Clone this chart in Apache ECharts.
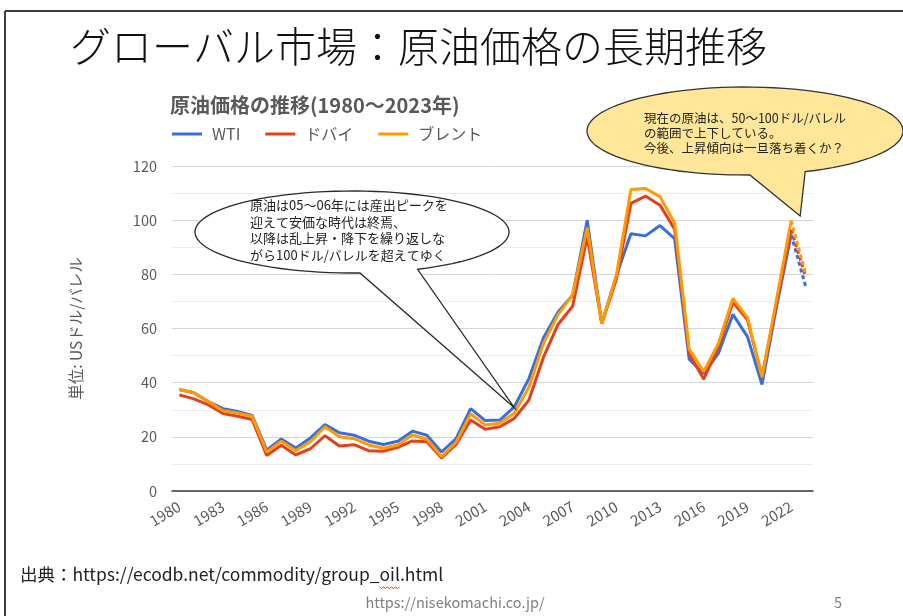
<!DOCTYPE html>
<html>
<head>
<meta charset="utf-8">
<script src="https://cdn.jsdelivr.net/npm/echarts@6/dist/echarts.min.js"></script>
<style>
  html, body { margin: 0; padding: 0; background: #ffffff; }
  #chart { width: 903px; height: 616px; }
</style>
</head>
<body>
<div id="chart"></div>
<script>
// Annual average crude oil prices (USD per barrel), 1980-2023
const years = ['1980','1981','1982','1983','1984','1985','1986','1987','1988','1989',
  '1990','1991','1992','1993','1994','1995','1996','1997','1998','1999',
  '2000','2001','2002','2003','2004','2005','2006','2007','2008','2009',
  '2010','2011','2012','2013','2014','2015','2016','2017','2018','2019',
  '2020','2021','2022','2023'];

const wti = [37.5, 36.3, 33.0, 30.4, 29.4, 27.9, 15.1, 19.2, 15.9, 19.6,
  24.5, 21.5, 20.6, 18.4, 17.2, 18.4, 22.1, 20.6, 14.4, 19.3,
  30.4, 26.0, 26.2, 31.1, 41.5, 56.6, 66.1, 72.3, 100.0, 61.9,
  79.5, 95.0, 94.2, 98.0, 93.2, 48.7, 43.3, 50.8, 65.2, 57.0,
  39.3, 68.1, 94.6, 75.5];

const dubai = [35.5, 34.0, 31.8, 28.6, 27.6, 26.4, 13.1, 16.9, 13.3, 15.6,
  20.4, 16.6, 17.1, 14.9, 14.7, 16.1, 18.5, 18.2, 12.2, 17.2,
  26.2, 22.8, 23.7, 26.8, 33.6, 49.4, 61.5, 68.2, 93.8, 61.8,
  78.1, 106.2, 108.9, 105.5, 96.7, 50.8, 41.3, 53.1, 69.7, 63.2,
  42.3, 69.2, 96.4, 79.0];

const brent = [37.5, 36.3, 33.0, 29.6, 28.8, 27.6, 14.4, 18.4, 14.9, 18.2,
  23.7, 20.0, 19.3, 17.0, 15.8, 17.0, 20.7, 19.1, 12.7, 18.0,
  28.5, 24.4, 25.0, 28.8, 38.3, 54.5, 65.1, 72.4, 97.3, 61.7,
  79.5, 111.3, 111.7, 108.7, 99.0, 52.4, 44.1, 54.4, 71.1, 64.0,
  42.0, 70.9, 99.8, 80.0];

const seriesNames = ['WTI', 'ドバイ', 'ブレント'];
const seriesColors = ['#3a6fd8', '#e3401d', '#ff9a00'];
const yTicks = { min: 0, max: 120, interval: 20 };

const FONT = '"Noto Sans CJK JP", "Noto Sans", sans-serif';
const GRAY = '#595959';

const chart = echarts.init(document.getElementById('chart'), null, { renderer: 'canvas' });

// the final (latest) segment of each series is drawn dashed
const last = years.length - 1;
const solidPart = arr => arr.map((v, i) => (i < last ? v : null));
const dashedPart = arr => arr.map((v, i) => (i >= last - 1 ? v : null));

const allData = [wti, dubai, brent];
const series = [];
allData.forEach((arr, k) => {
  series.push({
    name: seriesNames[k], type: 'line', data: solidPart(arr),
    symbol: 'none', smooth: false, connectNulls: false,
    lineStyle: { color: seriesColors[k], width: 3 },
    itemStyle: { color: seriesColors[k] },
    z: 2 + k
  });
});
allData.forEach((arr, k) => {
  series.push({
    name: seriesNames[k], type: 'line', data: dashedPart(arr),
    symbol: 'none', connectNulls: false,
    lineStyle: { color: seriesColors[k], width: 3, type: [4, 3] },
    itemStyle: { color: seriesColors[k] },
    z: 6 + k
  });
});

chart.setOption({
  animation: false,
  backgroundColor: '#ffffff',
  textStyle: { fontFamily: FONT },
  title: {
    text: '原油価格の推移(1980〜2023年)',
    left: 170, top: 95, padding: 0,
    textStyle: { fontFamily: FONT, fontSize: 20, fontWeight: 'bold', color: GRAY }
  },
  legend: {
    data: seriesNames,
    left: 172, top: 126, padding: 0,
    icon: 'rect', itemWidth: 30, itemHeight: 3, itemGap: 25,
    textStyle: { fontFamily: FONT, fontSize: 16, color: GRAY, padding: [0, 0, 0, 5] }
  },
  grid: { left: 172, right: 90, top: 166, bottom: 125, containLabel: false },
  xAxis: {
    type: 'category', data: years, boundaryGap: true,
    axisLine: { show: true, lineStyle: { color: '#3a3a3a', width: 1.5 } },
    axisTick: { show: false },
    axisLabel: { interval: 2, rotate: 31, margin: 14, fontFamily: FONT, fontSize: 15, color: GRAY }
  },
  yAxis: {
    type: 'value', min: yTicks.min, max: yTicks.max, interval: yTicks.interval,
    name: '単位: USドル/バレル', nameLocation: 'middle', nameGap: 88, nameRotate: 90,
    nameTextStyle: { fontFamily: FONT, fontSize: 15.5, color: GRAY },
    axisLine: { show: false }, axisTick: { show: false },
    axisLabel: { margin: 15, fontFamily: FONT, fontSize: 14.5, color: GRAY },
    splitLine: { show: true, lineStyle: { color: '#d6d6d6', width: 1 } },
    minorTick: { show: false, splitNumber: 2 },
    minorSplitLine: { show: true, lineStyle: { color: '#ececec', width: 1 } }
  },
  series: series
});

// speech-bubble outline: ellipse with a pointed tail between two angles
function bubble(cx, cy, rx, ry, tRight, tLeft, tip) {
  const pts = [];
  const steps = 90;
  const start = tLeft, end = tRight + Math.PI * 2;
  for (let i = 0; i <= steps; i++) {
    const t = start + (end - start) * i / steps;
    pts.push([cx + rx * Math.cos(t), cy + ry * Math.sin(t)]);
  }
  pts.push(tip);
  return pts;
}

const tip1 = chart.convertToPixel({ xAxisIndex: 0, yAxisIndex: 0 }, ['2003', 30]);
const tip2 = chart.convertToPixel({ xAxisIndex: 0, yAxisIndex: 0 }, ['2022', 101.5]);

const note1 = ['原油は05〜06年には産出ピークを', '迎えて安価な時代は終焉、',
  '以降は乱上昇・降下を繰り返しな', 'がら100ドル/バレルを超えてゆく'];
const note2 = ['現在の原油は、50〜100ドル/バレル', 'の範囲で上下している。',
  '今後、上昇傾向は一旦落ち着くか？'];

// source line and the spell-check squiggle under "oil"
const SOURCE_FONT = '17.5px ' + FONT;
const sourcePrefix = '出典：https://ecodb.net/commodity/group_';
const sourceText = sourcePrefix + 'oil.html';
const ctx = document.createElement('canvas').getContext('2d');
ctx.font = SOURCE_FONT;
const oilX0 = 20 + ctx.measureText(sourcePrefix).width;
const oilX1 = oilX0 + ctx.measureText('oil').width;
const squiggle = [];
for (let x = oilX0, k = 0; x <= oilX1; x += 2, k++) {
  squiggle.push([x, 587 + (k % 2 ? 1.5 : 0)]);
}
ctx.font = '14.5px ' + FONT;
const footW = ctx.measureText('https://nisekomachi.co.jp/').width;

chart.setOption({
  graphic: [
    // slide frame
    { type: 'line', z: 100, shape: { x1: 5, y1: 11, x2: 903, y2: 11 },
      style: { stroke: '#3c3c3c', lineWidth: 2 } },
    { type: 'line', z: 100, shape: { x1: 5, y1: 11, x2: 5, y2: 616 },
      style: { stroke: '#3c3c3c', lineWidth: 2 } },
    // slide heading
    { type: 'text', z: 100, left: 70, top: 26,
      style: { text: 'グローバル市場：原油価格の長期推移', font: '300 41px ' + FONT, fill: '#111111' } },
    // callout about the 2000s turning point
    { type: 'polygon', z: 100,
      shape: { points: bubble(352, 232, 157, 41, 1.14, 1.52, [tip1[0], tip1[1] - 2]) },
      style: { fill: '#ffffff', stroke: '#2a2a2a', lineWidth: 1.3 } },
    { type: 'text', z: 101, x: 250, y: 197,
      style: { text: note1.join('\n'), font: '13px ' + FONT, fill: '#222222', lineHeight: 16.5 } },
    // callout about the current range
    { type: 'polygon', z: 100,
      shape: { points: bubble(745, 131, 158, 44, 1.18, 1.54, [tip2[0] + 9, tip2[1]]) },
      style: { fill: '#ffe699', stroke: '#333333', lineWidth: 1.3 } },
    { type: 'text', z: 101, x: 644, y: 111,
      style: { text: note2.join('\n'), font: '12.5px ' + FONT, fill: '#222222', lineHeight: 15 } },
    // source and footer
    { type: 'text', z: 100, x: 20, y: 566,
      style: { text: sourceText, font: SOURCE_FONT, fill: '#222222' } },
    { type: 'polyline', z: 100, shape: { points: squiggle },
      style: { stroke: '#e03030', lineWidth: 1 } },
    { type: 'text', z: 100, x: 455 - footW / 2, y: 595,
      style: { text: 'https://nisekomachi.co.jp/', font: '14.5px ' + FONT, fill: '#7f7f7f' } },
    { type: 'text', z: 100, x: 834, y: 595,
      style: { text: '5', font: '14.5px ' + FONT, fill: '#7f7f7f' } }
  ]
});
</script>
</body>
</html>
